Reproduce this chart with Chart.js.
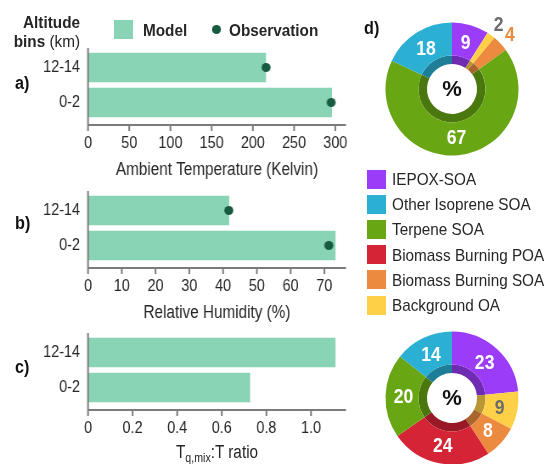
<!DOCTYPE html>
<html>
<head>
<meta charset="utf-8">
<script src="https://cdn.jsdelivr.net/npm/chart.js@4.4.1/dist/chart.umd.min.js"></script>
<style>
  html, body { margin: 0; padding: 0; background: #fff; overflow: hidden; }
  #figure { position: relative; width: 550px; height: 464px; overflow: hidden;
            font-family: 'Liberation Sans', Arial, sans-serif; color: #262626; }
  #figure canvas { position: absolute; }
  /* condensed lettering: a larger face squeezed horizontally */
  .txt { position: absolute; white-space: nowrap; line-height: 1; z-index: 2;
         transform-origin: left center; transform: translate(0, -50%) scaleX(0.9); }
  .txt.r { transform-origin: right center; transform: translate(-100%, -50%) scaleX(0.9); }
  .txt.c { transform-origin: center center; transform: translate(-50%, -50%) scaleX(0.85); }
  .b { font-weight: bold; }
  .tag { font-weight: bold; font-size: 18px; color: #111; }
  .head { font-size: 17px; }
  .swatch { position: absolute; width: 19px; height: 19px; z-index: 2; }
  .dot { position: absolute; width: 9px; height: 9px; border-radius: 50%; z-index: 2; }
  .legend-row { position: absolute; left: 367px; height: 19px; z-index: 2; }
  .legend-row span.sw { position: absolute; left: 0; top: 0; width: 19px; height: 19px; }
  .legend-row span.lb { position: absolute; left: 25px; top: 50%; font-size: 17px; white-space: nowrap; line-height: 1;
                        transform-origin: left center; transform: translateY(-50%) scaleX(0.9); }
  sub { font-size: 12.5px; vertical-align: -4px; line-height: 0; }
</style>
</head>
<body>
<div id="figure">
  <canvas id="tempChart" width="424" height="160" style="left:0;top:30px;width:360px;height:160px"></canvas>
  <canvas id="humidityChart" width="424" height="160" style="left:0;top:173px;width:360px;height:160px"></canvas>
  <canvas id="ratioChart" width="424" height="160" style="left:0;top:315px;width:360px;height:160px"></canvas>
  <canvas id="ringTop" width="180" height="180" style="left:362px;top:-1px"></canvas>
  <canvas id="ringBottom" width="180" height="180" style="left:362px;top:308px"></canvas>

  <div class="txt r b head" style="left:80px;top:22px">Altitude</div>
  <div class="txt r head" style="left:80px;top:41px"><span class="b">bins</span> (km)</div>

  <div id="modelSwatch" class="swatch" style="left:114px;top:20px"></div>
  <div class="txt b head" style="left:143px;top:30px">Model</div>
  <div id="obsDot" class="dot" style="left:211.5px;top:25px"></div>
  <div class="txt b head" style="left:229px;top:30px">Observation</div>

  <div class="txt tag" style="left:15px;top:83px">a)</div>
  <div class="txt tag" style="left:15px;top:223px">b)</div>
  <div class="txt tag" style="left:15px;top:367px">c)</div>
  <div class="txt tag" style="left:364px;top:28px">d)</div>

  <div class="txt c" style="left:217px;top:452px;font-size:18px">T<sub>q,mix</sub>:T ratio</div>

  <div id="sourceLegend"></div>
</div>

<script>
'use strict';

// altitude bins shown on every bar panel
const altitudeBins = ['12-14', '0-2'];

// a) ambient temperature (K)
const tempModel = [216, 296];
const tempObs = [216, 295];

// b) relative humidity (%)
const humidityModel = [41.8, 73.3];
const humidityObs = [41.7, 71.3];

// c) mixing temperature : temperature ratio
const ratioModel = [1.11, 0.727];

// OA source apportionment, listed in legend order
const sources = ['IEPOX-SOA', 'Other Isoprene SOA', 'Terpene SOA',
                 'Biomass Burning POA', 'Biomass Burning SOA', 'Background OA'];
const sourceColors = ['#9b3cf9', '#2bafd2', '#68a614', '#d52435', '#ec8b3f', '#fed047'];
const sharesTop = [9, 18, 67, 0, 4, 2];
const sharesBottom = [23, 14, 20, 24, 8, 9];

// clockwise order of the slices starting at 12 o'clock
const ringOrder = [0, 5, 4, 3, 2, 1];

const FONT = "'Liberation Sans', Arial, sans-serif";
const INK = '#262626';
const AXIS_GREY = '#7b7b7b';
const MODEL_GREEN = '#88d4b5';
const OBS_GREEN = '#175b40';
const SOFT_GREY = '#6b6b6b';

// bar panels are drawn wider than shown and squeezed by CSS (condensed text)
const SQUEEZE = 360 / 424;

Chart.defaults.devicePixelRatio = 1;

// L-shaped axis frame: lines sit a little below / above the bar area
const axisFrame = {
    id: 'axisFrame',
    afterDatasetsDraw(chart) {
        const { ctx, chartArea: a, scales: { x } } = chart;
        const base = a.bottom + 5;
        ctx.save();
        ctx.strokeStyle = AXIS_GREY;
        ctx.lineWidth = 2;
        ctx.beginPath();
        ctx.moveTo(a.left, a.top - 2);
        ctx.lineTo(a.left, base);
        ctx.lineTo(a.right, base);
        x.ticks.forEach(function(t) {
            const px = x.getPixelForValue(t.value);
            ctx.moveTo(px, base);
            ctx.lineTo(px, base + 6);
        });
        ctx.stroke();
        ctx.restore();
    }
};

// round marker pre-stretched so it stays round after the squeeze
function obsMarker(r) {
    const c = document.createElement('canvas');
    const rx = r / SQUEEZE;
    c.width = Math.ceil(rx * 2) + 2;
    c.height = r * 2 + 2;
    const g = c.getContext('2d');
    g.fillStyle = OBS_GREEN;
    g.beginPath();
    g.ellipse(c.width / 2, c.height / 2, rx, r, 0, 0, Math.PI * 2);
    g.fill();
    return c;
}

function barPanel(canvasId, model, obs, xMax, step, tickFmt, title) {
    const datasets = [];
    if (obs) {
        datasets.push({
            type: 'line', label: 'Observation', data: obs, showLine: false,
            pointStyle: obsMarker(4.5), pointRadius: 4.5, order: 0
        });
    }
    datasets.push({
        label: 'Model', data: model, backgroundColor: MODEL_GREEN,
        categoryPercentage: 1, barPercentage: 0.84, order: 1
    });

    return new Chart(document.getElementById(canvasId), {
        type: 'bar',
        data: { labels: altitudeBins, datasets: datasets },
        options: {
            indexAxis: 'y',
            responsive: false,
            animation: false,
            events: [],
            layout: { padding: { top: 20, right: 14 / SQUEEZE, left: 0, bottom: 0 } },
            plugins: { legend: { display: false }, tooltip: { enabled: false } },
            scales: {
                x: {
                    min: 0,
                    max: xMax,
                    border: { display: false },
                    grid: { display: false, drawTicks: false },
                    ticks: {
                        stepSize: step, includeBounds: false, padding: 12.8, color: INK,
                        maxRotation: 0, autoSkip: false,
                        font: { family: FONT, size: 17 },
                        callback: tickFmt
                    },
                    title: {
                        display: !!title, text: title, color: INK,
                        font: { family: FONT, size: 18 },
                        padding: { top: 0, bottom: 9 }
                    },
                    afterFit(s) { s.height = 70; }
                },
                y: {
                    border: { display: false },
                    grid: { display: false, drawTicks: false },
                    ticks: { padding: 8 / SQUEEZE, color: INK, font: { family: FONT, size: 17 } },
                    afterFit(s) { s.width = 88 / SQUEEZE; }
                }
            }
        },
        plugins: [axisFrame]
    });
}

function shade(hex, k) {
    const n = parseInt(hex.slice(1), 16);
    const r = Math.round(((n >> 16) & 255) * k);
    const g = Math.round(((n >> 8) & 255) * k);
    const b = Math.round((n & 255) * k);
    return 'rgb(' + r + ',' + g + ',' + b + ')';
}

// numbers on the slices plus the % mark in the hole
const sliceLabels = {
    id: 'sliceLabels',
    afterDatasetsDraw(chart) {
        const ctx = chart.ctx;
        const meta = chart.getDatasetMeta(0);
        const values = chart.data.datasets[0].data;
        const colors = chart.data.datasets[0].backgroundColor;
        ctx.save();
        ctx.textAlign = 'center';
        ctx.textBaseline = 'middle';
        ctx.font = 'bold 20px ' + FONT;
        meta.data.forEach(function(arc, i) {
            const v = values[i];
            if (!v) return;
            const p = arc.getProps(['x', 'y', 'startAngle', 'endAngle', 'outerRadius'], true);
            const mid = (p.startAngle + p.endAngle) / 2;
            const outside = v < 5;
            const r = outside ? p.outerRadius + 13 : p.outerRadius * 0.73;
            const isYellow = colors[i] === sourceColors[5];
            ctx.fillStyle = isYellow ? SOFT_GREY : (outside ? colors[i] : '#fff');
            ctx.save();
            ctx.translate(p.x + Math.cos(mid) * r, p.y + Math.sin(mid) * r + 1);
            ctx.scale(0.88, 1);
            ctx.fillText(String(v), 0, 0);
            ctx.restore();
        });
        const c = meta.data[0];
        ctx.fillStyle = '#111';
        ctx.font = 'bold 22px ' + FONT;
        ctx.fillText('%', c.x, c.y + 1);
        ctx.restore();
    }
};

function sourceRing(canvasId, shares) {
    const values = ringOrder.map(function(i) { return shares[i]; });
    const colors = ringOrder.map(function(i) { return sourceColors[i]; });
    return new Chart(document.getElementById(canvasId), {
        type: 'doughnut',
        data: {
            labels: ringOrder.map(function(i) { return sources[i]; }),
            datasets: [
                { data: values, backgroundColor: colors, borderWidth: 0, weight: 33 },
                { data: values, backgroundColor: colors.map(function(c) { return shade(c, 0.72); }),
                  borderWidth: 0, weight: 8.5 }
            ]
        },
        options: {
            responsive: false,
            animation: false,
            events: [],
            cutout: '37.6%',
            layout: { padding: 23.5 },
            plugins: { legend: { display: false }, tooltip: { enabled: false } }
        },
        plugins: [sliceLabels]
    });
}

// ===== LEGENDS =====
document.getElementById('modelSwatch').style.background = MODEL_GREEN;
document.getElementById('obsDot').style.background = OBS_GREEN;

const legendBox = document.getElementById('sourceLegend');
sources.forEach(function(name, i) {
    const row = document.createElement('div');
    row.className = 'legend-row';
    row.style.top = (169.5 + i * 25.2) + 'px';
    row.innerHTML = '<span class="sw" style="background:' + sourceColors[i] + '"></span>' +
                    '<span class="lb">' + name + '</span>';
    legendBox.appendChild(row);
});

// ===== CHARTS =====
const intTicks = function(v) { return v; };
const ratioTicks = function(v) { return v === 0 ? '0' : v.toFixed(1); };

barPanel('tempChart', tempModel, tempObs, 313, 50, intTicks, 'Ambient Temperature (Kelvin)');
barPanel('humidityChart', humidityModel, humidityObs, 76.4, 10, intTicks, 'Relative Humidity (%)');
barPanel('ratioChart', ratioModel, null, 1.157, 0.2, ratioTicks, '');

sourceRing('ringTop', sharesTop);
sourceRing('ringBottom', sharesBottom);
</script>
</body>
</html>
